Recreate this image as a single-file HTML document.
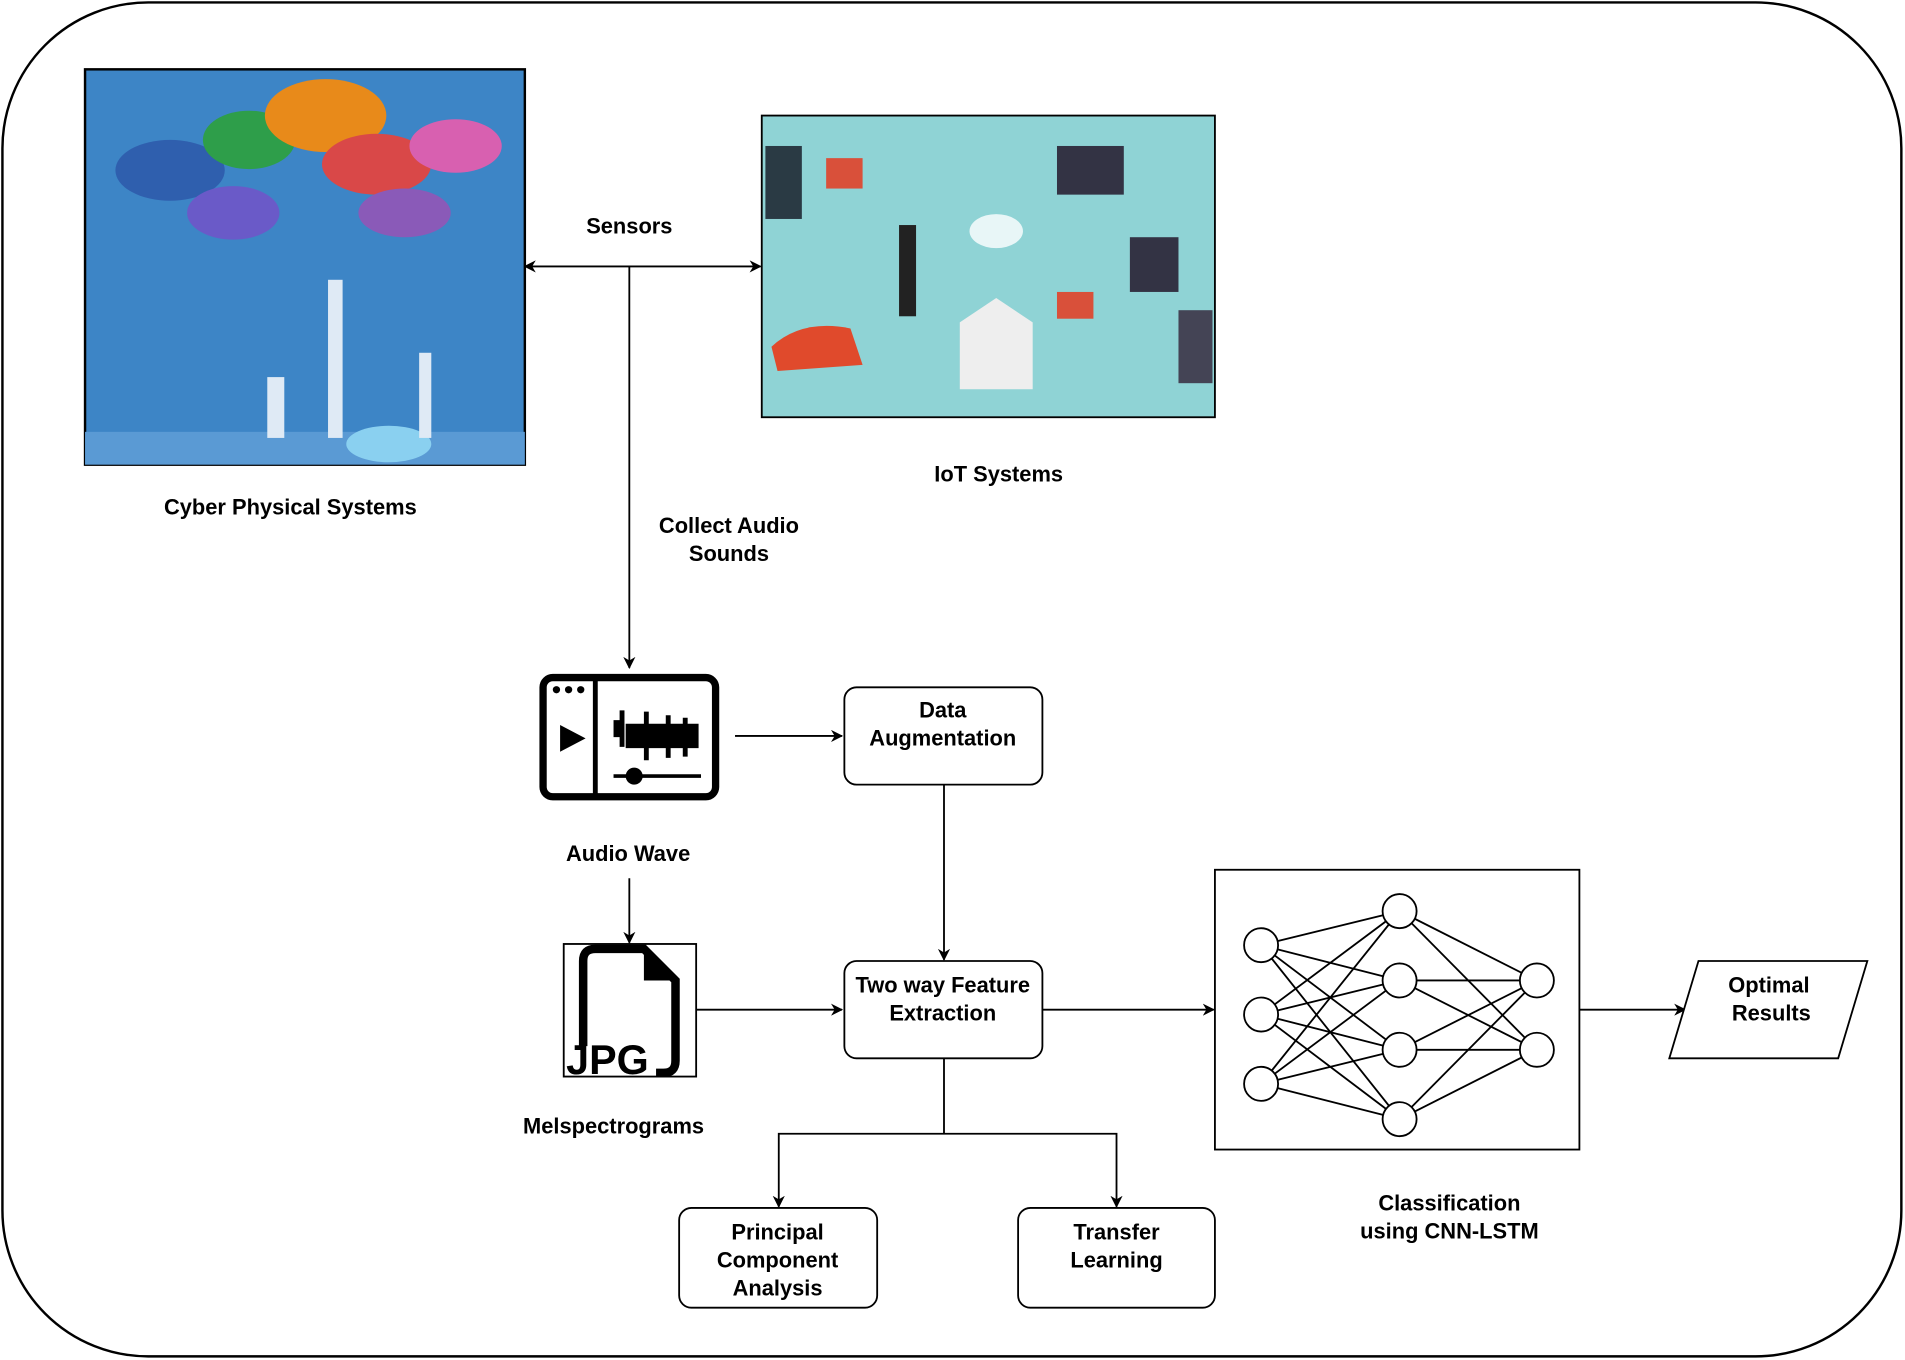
<!DOCTYPE html>
<html><head><meta charset="utf-8"><style>html,body{margin:0;padding:0;background:#fff}svg{display:block}</style></head><body>
<svg width="1905" height="1360" viewBox="0 0 1568 1118" preserveAspectRatio="none" xmlns="http://www.w3.org/2000/svg" font-family="Liberation Sans, sans-serif" font-weight="bold" font-size="18">
<defs><marker id="a" markerWidth="10" markerHeight="10" refX="9" refY="5" orient="auto-start-reverse" markerUnits="userSpaceOnUse"><path d="M0,0 L10,5 L0,10 L3,5 z" fill="#000"/></marker></defs>
<rect x="2" y="2" width="1563" height="1113" rx="120" fill="#fff" stroke="#000" stroke-width="2"/>
<!-- CPS image -->
<rect x="70" y="57" width="362" height="325" fill="#3d85c6" stroke="#000" stroke-width="2"/>
<rect x="70" y="355" width="362" height="27" fill="#5a9ad4"/>
<ellipse cx="140" cy="140" rx="45" ry="25" fill="#2f5fae"/>
<ellipse cx="205" cy="115" rx="38" ry="24" fill="#2e9e4a"/>
<ellipse cx="268" cy="95" rx="50" ry="30" fill="#e88a1a"/>
<ellipse cx="310" cy="135" rx="45" ry="25" fill="#d94848"/>
<ellipse cx="375" cy="120" rx="38" ry="22" fill="#d860b0"/>
<ellipse cx="192" cy="175" rx="38" ry="22" fill="#6a5ac8"/>
<ellipse cx="333" cy="175" rx="38" ry="20" fill="#8a5ab8"/>
<rect x="270" y="230" width="12" height="130" fill="#dfeaf5"/>
<ellipse cx="320" cy="365" rx="35" ry="15" fill="#8ad0f0"/>
<rect x="220" y="310" width="14" height="50" fill="#dfeaf5"/>
<rect x="345" y="290" width="10" height="70" fill="#dfeaf5"/>
<!-- IoT image -->
<rect x="627" y="95" width="373" height="248" fill="#8fd3d5" stroke="#000" stroke-width="1.5"/>
<rect x="630" y="120" width="30" height="60" fill="#2a3a44"/>
<rect x="740" y="185" width="14" height="75" fill="#222"/>
<path d="M790 265 L820 245 L850 265 L850 320 L790 320 Z" fill="#eee"/>
<path d="M635 285 Q660 262 700 270 L710 300 L640 305 Z" fill="#e04a2c"/>
<rect x="870" y="120" width="55" height="40" fill="#334"/>
<rect x="930" y="195" width="40" height="45" fill="#334"/>
<rect x="970" y="255" width="28" height="60" fill="#445"/>
<ellipse cx="820" cy="190" rx="22" ry="14" fill="#e8f6f7"/>
<rect x="680" y="130" width="30" height="25" fill="#d9503a"/>
<rect x="870" y="240" width="30" height="22" fill="#d9503a"/>
<text x="518" y="192" text-anchor="middle">Sensors</text>
<line x1="432" y1="219" x2="626" y2="219" stroke="#000" stroke-width="1.5" marker-start="url(#a)" marker-end="url(#a)"/>
<line x1="518" y1="219" x2="518" y2="549" stroke="#000" stroke-width="1.5" marker-end="url(#a)"/>
<text x="239" y="423" text-anchor="middle">Cyber Physical Systems</text>
<text x="822" y="396" text-anchor="middle">IoT Systems</text>
<text x="600" y="438" text-anchor="middle">Collect Audio</text>
<text x="600" y="461" text-anchor="middle">Sounds</text>
<!-- audio icon -->
<rect x="447" y="557" width="142" height="98" rx="8" fill="#fff" stroke="#000" stroke-width="6"/>
<line x1="490" y1="557" x2="490" y2="655" stroke="#000" stroke-width="4"/>
<circle cx="458" cy="567" r="3"/><circle cx="468" cy="567" r="3"/><circle cx="478" cy="567" r="3"/>
<path d="M461 596 L482 607 L461 618 Z"/>
<path d="M505 592 h5 v-8 h4 v30 h-4 v-8 h-5 z M515 595 h60 v20 h-60 z M530 585 h4 v40 h-4z M548 588 h4 v35 h-4z M562 590 h4 v32 h-4z"/>
<line x1="505" y1="638" x2="577" y2="638" stroke="#000" stroke-width="3"/>
<circle cx="522" cy="638" r="7"/>
<line x1="605" y1="605" x2="693" y2="605" stroke="#000" stroke-width="1.5" marker-end="url(#a)"/>
<rect x="695" y="565" width="163" height="80" rx="10" fill="#fff" stroke="#000" stroke-width="1.5"/>
<text x="776" y="590" text-anchor="middle">Data</text>
<text x="776" y="613" text-anchor="middle">Augmentation</text>
<line x1="777" y1="645" x2="777" y2="789" stroke="#000" stroke-width="1.5" marker-end="url(#a)"/>
<text x="517" y="708" text-anchor="middle">Audio Wave</text>
<line x1="518" y1="722" x2="518" y2="775" stroke="#000" stroke-width="1.5" marker-end="url(#a)"/>
<!-- JPG -->
<rect x="464" y="776" width="109" height="109" fill="#fff" stroke="#000" stroke-width="1.5"/>
<path d="M490 780 H530 L556 806 V872 Q556 882 546 882 H540 M480 860 V790 Q480 780 490 780" fill="none" stroke="#000" stroke-width="7"/>
<path d="M530 780 L556 806 H530 Z"/>
<text x="466" y="883" font-size="34">JPG</text>
<line x1="573" y1="830" x2="693" y2="830" stroke="#000" stroke-width="1.5" marker-end="url(#a)"/>
<text x="505" y="932" text-anchor="middle">Melspectrograms</text>
<rect x="695" y="790" width="163" height="80" rx="10" fill="#fff" stroke="#000" stroke-width="1.5"/>
<text x="776" y="816" text-anchor="middle">Two way Feature</text>
<text x="776" y="839" text-anchor="middle">Extraction</text>
<line x1="858" y1="830" x2="999" y2="830" stroke="#000" stroke-width="1.5" marker-end="url(#a)"/>
<polyline points="777,870 777,932" fill="none" stroke="#000" stroke-width="1.5"/>
<polyline points="641,992 641,932 919,932 919,992" fill="none" stroke="#000" stroke-width="1.5" marker-start="url(#a)" marker-end="url(#a)"/>
<rect x="559" y="993" width="163" height="82" rx="10" fill="#fff" stroke="#000" stroke-width="1.5"/>
<text x="640" y="1019" text-anchor="middle">Principal</text>
<text x="640" y="1042" text-anchor="middle">Component</text>
<text x="640" y="1065" text-anchor="middle">Analysis</text>
<rect x="838" y="993" width="162" height="82" rx="10" fill="#fff" stroke="#000" stroke-width="1.5"/>
<text x="919" y="1019" text-anchor="middle">Transfer</text>
<text x="919" y="1042" text-anchor="middle">Learning</text>
<!-- NN -->
<rect x="1000" y="715" width="300" height="230" fill="#fff" stroke="#000" stroke-width="1.5"/>
<g stroke="#000" stroke-width="1.5">
<line x1="1038" y1="777" x2="1152" y2="749"/><line x1="1038" y1="777" x2="1152" y2="806"/><line x1="1038" y1="777" x2="1152" y2="863"/><line x1="1038" y1="777" x2="1152" y2="920"/>
<line x1="1038" y1="834" x2="1152" y2="749"/><line x1="1038" y1="834" x2="1152" y2="806"/><line x1="1038" y1="834" x2="1152" y2="863"/><line x1="1038" y1="834" x2="1152" y2="920"/>
<line x1="1038" y1="891" x2="1152" y2="749"/><line x1="1038" y1="891" x2="1152" y2="806"/><line x1="1038" y1="891" x2="1152" y2="863"/><line x1="1038" y1="891" x2="1152" y2="920"/>
<line x1="1152" y1="749" x2="1265" y2="806"/><line x1="1152" y1="749" x2="1265" y2="863"/>
<line x1="1152" y1="806" x2="1265" y2="806"/><line x1="1152" y1="806" x2="1265" y2="863"/>
<line x1="1152" y1="863" x2="1265" y2="806"/><line x1="1152" y1="863" x2="1265" y2="863"/>
<line x1="1152" y1="920" x2="1265" y2="806"/><line x1="1152" y1="920" x2="1265" y2="863"/>
</g>
<g fill="#fff" stroke="#000" stroke-width="1.5">
<circle cx="1038" cy="777" r="14"/><circle cx="1038" cy="834" r="14"/><circle cx="1038" cy="891" r="14"/>
<circle cx="1152" cy="749" r="14"/><circle cx="1152" cy="806" r="14"/><circle cx="1152" cy="863" r="14"/><circle cx="1152" cy="920" r="14"/>
<circle cx="1265" cy="806" r="14"/><circle cx="1265" cy="863" r="14"/>
</g>
<line x1="1300" y1="830" x2="1387" y2="830" stroke="#000" stroke-width="1.5" marker-end="url(#a)"/>
<polygon points="1398,790 1537,790 1513,870 1374,870" fill="#fff" stroke="#000" stroke-width="1.5"/>
<text x="1456" y="816" text-anchor="middle">Optimal</text>
<text x="1458" y="839" text-anchor="middle">Results</text>
<text x="1193" y="995" text-anchor="middle">Classification</text>
<text x="1193" y="1018" text-anchor="middle">using CNN-LSTM</text>
</svg>
</body></html>
